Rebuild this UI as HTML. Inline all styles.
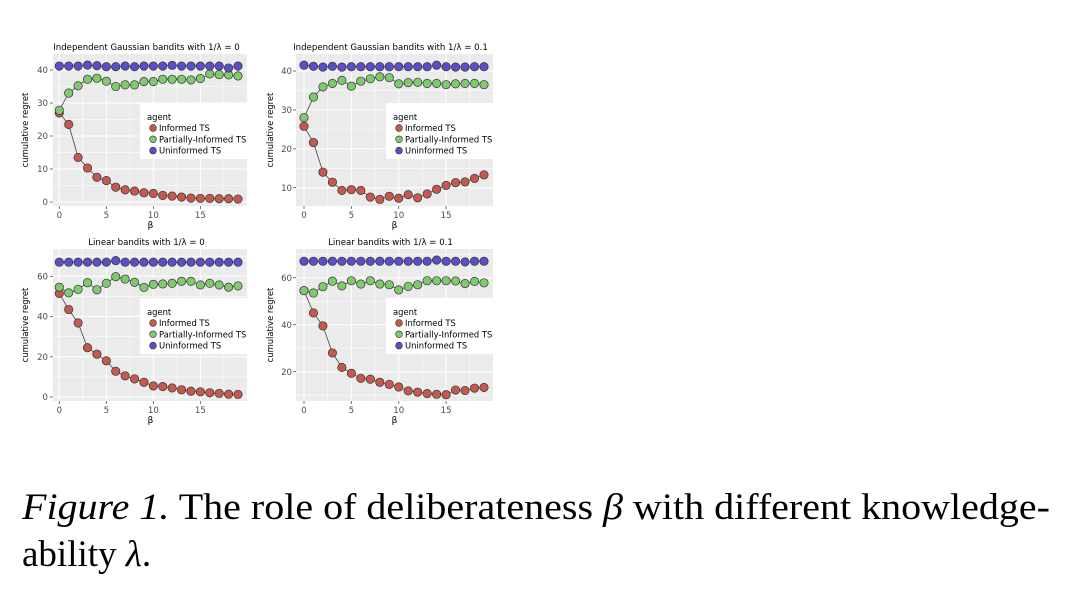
<!DOCTYPE html>
<html><head><meta charset="utf-8"><style>
html,body{margin:0;padding:0;background:#fff;width:1080px;height:607px;overflow:hidden}
svg{display:block}
</style></head><body>
<svg id="s" width="1080" height="607" xmlns="http://www.w3.org/2000/svg" font-family="'DejaVu Sans','Liberation Sans',sans-serif">
<text x="22" y="519" font-family="'Liberation Serif',serif" font-size="37" textLength="1028" lengthAdjust="spacingAndGlyphs"><tspan font-style="italic">Figure 1.</tspan> The role of deliberateness <tspan font-style="italic">β</tspan> with different knowledge-</text>
<text x="22" y="566" font-family="'Liberation Serif',serif" font-size="37">ability <tspan font-style="italic">λ</tspan>.</text>
</svg>
<script>
const NS="http://www.w3.org/2000/svg",S=document.getElementById('s');
function el(t,a,txt){const e=document.createElementNS(NS,t);for(const k in a)e.setAttribute(k,a[k]);if(txt!==undefined)e.textContent=txt;S.appendChild(e);return e;}
const P=[
{x0:53,x1:248,y0:54,y1:206,bx0:59.3,bx19:238,va:0,pa:202,vb:40,pb:70,ticks:[0,10,20,30,40],title:"Independent Gaussian bandits with 1/λ = 0",lx:140,ly:103,ylab:49,ytit:28,
d:[[27,23.5,13.5,10.3,7.5,6.5,4.5,3.7,3.3,2.8,2.6,2,1.8,1.5,1.2,1.1,1.1,1,1,0.9],
[27.8,33,35.2,37.2,37.5,36.6,35,35.5,35.5,36.5,36.5,37.2,37.2,37.2,37,37.4,38.8,38.6,38.5,38.2],
[41.2,41.2,41.2,41.5,41.3,41,41,41.2,41,41.2,41.2,41.2,41.4,41.2,41.2,41.2,41.2,41.2,40.6,41.2]]},
{x0:296,x1:493,y0:54,y1:206,bx0:304,bx19:484,va:10,pa:187.7,vb:40,pb:71,ticks:[10,20,30,40],title:"Independent Gaussian bandits with 1/λ = 0.1",lx:386,ly:103,ylab:293,ytit:273,
d:[[25.8,21.6,14,11.4,9.3,9.5,9.3,7.6,7,7.8,7.3,8.2,7.4,8.4,9.6,10.6,11.3,11.5,12.4,13.3],
[28,33.3,35.9,36.8,37.6,36.1,37.4,38,38.5,38.3,36.7,37,37.1,36.8,36.8,36.5,36.7,36.8,36.8,36.5],
[41.5,41.2,41,41.2,41,41.1,41.1,41.1,41.1,41.1,41.1,41.1,41.1,41.1,41.5,41.1,41,41,41.1,41.1]]},
{x0:53,x1:248,y0:249,y1:401,bx0:59.3,bx19:238,va:0,pa:397,vb:60,pb:276.3,ticks:[0,20,40,60],title:"Linear bandits with 1/λ = 0",lx:140,ly:298,ylab:49,ytit:28,
d:[[51.5,43.5,36.8,24.5,21.3,18,12.8,10.5,9,7.3,5.5,5.2,4.5,3.6,2.9,2.6,2.1,1.8,1.4,1.3],
[54.6,51.8,53.5,56.8,53.3,56.5,59.8,58.6,57,54.5,56,56.2,56.5,57.5,57.5,55.7,56.5,55.7,54.6,55.2],
[67,67,67,67,67,67,67.8,67,67,67,67,67,67,67,67,67,67,67,67,67]]},
{x0:296,x1:493,y0:249,y1:401,bx0:304,bx19:484,va:20,pa:371.7,vb:60,pb:277.7,ticks:[20,40,60],title:"Linear bandits with 1/λ = 0.1",lx:386,ly:298,ylab:293,ytit:273,
d:[[54.5,45,39.5,28,21.8,19.3,17.2,16.8,15.5,14.6,13.5,11.8,11.3,10.7,10.4,10.2,12.2,12,13,13.3],
[54.5,53.5,56.2,58.5,56.5,58.7,57.3,58.7,57.3,57,54.8,56.3,57,58.7,58.7,58.7,58.6,57.5,58.4,57.8],
[67,67,67,67,67,67,67,67,67,67,67,67,67,67,67.5,67,67,66.7,67,67]]}];
const C=["#c5584f","#7fc96f","#5a4fc8"],L=["Informed TS","Partially-Informed TS","Uninformed TS"];
for(const p of P){
 const X=b=>p.bx0+(p.bx19-p.bx0)*b/19, Y=v=>p.pa+(p.pb-p.pa)*(v-p.va)/(p.vb-p.va);
 el('rect',{x:p.x0,y:p.y0,width:p.x1-p.x0,height:p.y1-p.y0,fill:"#ebebeb"});
 const step=p.ticks[1]-p.ticks[0];
 for(let v=p.ticks[0]-step/2;v<=p.ticks[p.ticks.length-1]+step;v+=step/2){const y=Y(v);if(y<p.y0||y>p.y1)continue;el('line',{x1:p.x0,x2:p.x1,y1:y,y2:y,stroke:"#fff","stroke-width":(Math.abs((v-p.ticks[0])%step)<1e-6)?1:0.5});}
 for(let b=-2.5;b<=20;b+=2.5){const x=X(b);if(x<p.x0||x>p.x1)continue;el('line',{y1:p.y0,y2:p.y1,x1:x,x2:x,stroke:"#fff","stroke-width":(b%5===0)?1:0.5});}
 for(const v of p.ticks){const y=Y(v);el('line',{x1:p.x0-3,x2:p.x0,y1:y,y2:y,stroke:"#555","stroke-width":0.8});el('text',{x:p.ylab-1,y:y+3.2,"font-size":8.6,fill:"#4d4d4d","text-anchor":"end"},v);}
 for(const b of [0,5,10,15]){const x=X(b);el('line',{x1:x,x2:x,y1:p.y1,y2:p.y1+3,stroke:"#555","stroke-width":0.8});el('text',{x:x,y:p.y1+12,"font-size":8.6,fill:"#4d4d4d","text-anchor":"middle"},b);}
 el('text',{x:(p.x0+p.x1)/2,y:p.y1+22,"font-size":9,"text-anchor":"middle"},"β");
 el('text',{x:p.ytit,y:(p.y0+p.y1)/2,"font-size":8.4,"text-anchor":"middle",transform:`rotate(-90 ${p.ytit} ${(p.y0+p.y1)/2})`},"cumulative regret");
 el('text',{x:(p.x0+p.x1)/2-4,y:p.y0-4,"font-size":8.6,"text-anchor":"middle"},p.title);
 for(let s=0;s<3;s++){const pts=p.d[s].map((v,i)=>X(i).toFixed(1)+","+Y(v).toFixed(1)).join(" ");el('polyline',{points:pts,fill:"none",stroke:"#444","stroke-width":0.8});}
 for(let s=0;s<3;s++)p.d[s].forEach((v,i)=>el('circle',{cx:X(i),cy:Y(v),r:4.2,fill:C[s],stroke:"#333","stroke-width":0.7}));
 el('rect',{x:p.lx,y:p.ly,width:p.x1-p.lx,height:56,fill:"#fff"});
 el('text',{x:p.lx+7,y:p.ly+17,"font-size":8.4},"agent");
 for(let s=0;s<3;s++){const y=p.ly+25+s*11.3;el('circle',{cx:p.lx+13,cy:y,r:3.4,fill:C[s],stroke:"#333","stroke-width":0.6});el('text',{x:p.lx+19,y:y+3,"font-size":8.4},L[s]);}
}
</script>
</body></html>
